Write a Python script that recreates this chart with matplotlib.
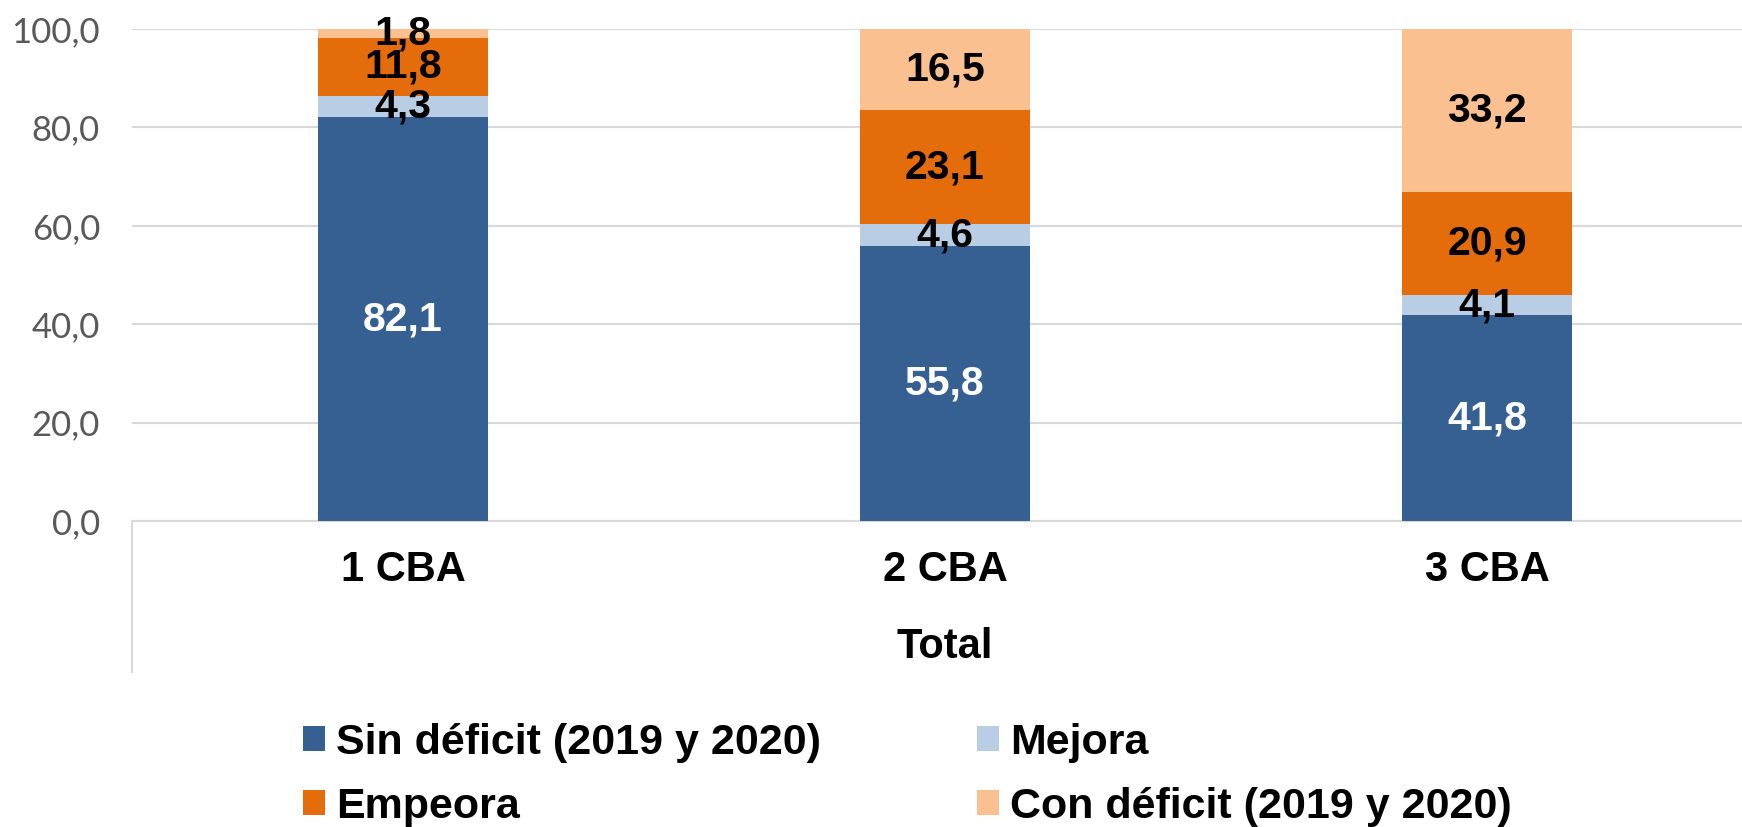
import matplotlib
matplotlib.use("Agg")
import matplotlib.pyplot as plt
from matplotlib.lines import Line2D

categories = ["1 CBA", "2 CBA", "3 CBA"]
series_names = ["Sin déficit (2019 y 2020)", "Mejora", "Empeora", "Con déficit (2019 y 2020)"]
sin_deficit = [82.1, 55.8, 41.8]
mejora = [4.3, 4.6, 4.1]
empeora = [11.8, 23.1, 20.9]
con_deficit = [1.8, 16.5, 33.2]
yticks = [0, 20, 40, 60, 80, 100]

colors = ["#376092", "#B9CDE5", "#E46C0A", "#FAC090"]
label_colors = ["white", "black", "black", "black"]

plt.rcParams['font.family'] = ['Liberation Sans', 'DejaVu Sans']

fig = plt.figure(figsize=(17.42, 8.27), dpi=100)
ax = fig.add_axes([132 / 1742, 1 - 521 / 827, (1758 - 132) / 1742, (521 - 29) / 827])

x = list(range(len(categories)))
bottoms = [0.0] * len(categories)
handles = []
for name, vals, col, lcol in zip(series_names, [sin_deficit, mejora, empeora, con_deficit],
                                 colors, label_colors):
    bars = ax.bar(x, vals, width=0.314, bottom=bottoms, color=col, zorder=3, label=name)
    handles.append(bars)
    for xi, v, b in zip(x, vals, bottoms):
        ax.text(xi, b + v / 2, f"{v:.1f}".replace(".", ","), ha="center", va="center",
                fontsize=29.5, fontweight="bold", color=lcol, zorder=4)
    bottoms = [b + v for b, v in zip(bottoms, vals)]

ax.set_xlim(-0.5, 2.5)
ax.set_ylim(0, 100)
ax.set_yticks(yticks)
ax.set_yticklabels([f"{t:.1f}".replace(".", ",") for t in yticks],
                   fontsize=25, color="#595959", family="Lato")
ax.set_xticks(x)
ax.set_xticklabels(categories, fontsize=30, fontweight="bold")
ax.tick_params(axis="x", length=0, pad=21)
ax.tick_params(axis="y", length=0, pad=23)
ax.grid(axis="y", color="#D9D9D9", linewidth=1.5, zorder=0)
for s in ["top", "right", "left"]:
    ax.spines[s].set_visible(False)
ax.spines["bottom"].set_color("#D9D9D9")
ax.spines["bottom"].set_linewidth(1.5)

# category axis line that runs down past the labels
ax.add_line(Line2D([0, 0], [0, -151 / 492], transform=ax.transAxes, color="#D9D9D9",
                   linewidth=1.5, clip_on=False))

fig.text(945 / 1742, 1 - 647 / 827, "Total", ha="center", va="center",
         fontsize=30, fontweight="bold")

order = [0, 2, 1, 3]
fig.legend([handles[i] for i in order], [series_names[i] for i in order],
           loc="upper left", bbox_to_anchor=(303 / 1742, 1 - 723 / 827), ncol=2,
           frameon=False, prop={"size": 31, "weight": "bold"},
           handlelength=0.51, handleheight=0.51, handletextpad=0.26,
           columnspacing=3.62, labelspacing=0.56, borderaxespad=0, borderpad=0)

fig.savefig("out.png", dpi=100)
